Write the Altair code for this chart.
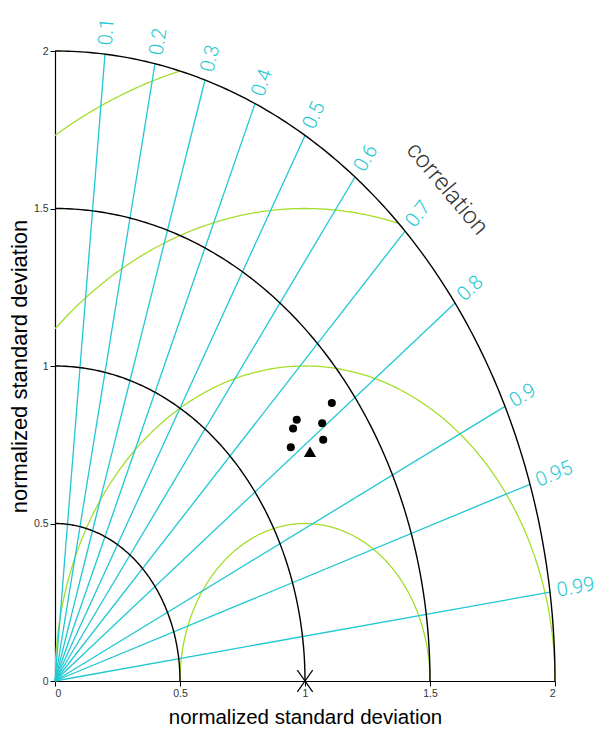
import altair as alt
import numpy as np
import pandas as pd

# ---- chart values ----
corr_ticks = [0.1, 0.2, 0.3, 0.4, 0.5, 0.6, 0.7, 0.8, 0.9, 0.95, 0.99]
corr_labels = ["0.1", "0.2", "0.3", "0.4", "0.5", "0.6", "0.7", "0.8", "0.9", "0.95", "0.99"]
std_arcs = [0.5, 1.0, 1.5, 2.0]          # black arcs (normalized std)
rms_arcs = [0.5, 1.0, 1.5, 2.0]          # green arcs (centred RMS difference)
axis_ticks = [0, 0.5, 1, 1.5, 2]

model_std = [1.416, 1.274, 1.245, 1.346, 1.318, 1.200]
model_corr = [0.782, 0.759, 0.765, 0.794, 0.814, 0.786]
mean_std = [1.253]
mean_corr = [0.814]
ref_std = [1.0]
ref_corr = [1.0]

W, H = 500, 630
RMAX = 2.0
KX, KY = W / RMAX, H / RMAX

CYAN = "#1fc8d2"
GREEN = "#a3de2c"
TXT_FONT = "Roboto"

def xy(s, c):
    c = np.asarray(c, float)
    s = np.asarray(s, float)
    return s * c, s * np.sqrt(np.clip(1 - c ** 2, 0, None))

xs = alt.Scale(domain=[0, RMAX], nice=False, zero=True)
ys = alt.Scale(domain=[0, RMAX], nice=False, zero=True)
xaxis = alt.Axis(values=axis_ticks, format="~g", grid=False, title="normalized standard deviation",
                 titlePadding=9, titleFontSize=20.5)
yaxis = alt.Axis(values=axis_ticks, format="~g", grid=False, title="normalized standard deviation",
                 titlePadding=2, titleFontSize=22)

# black std arcs
rows = []
for k, r in enumerate(std_arcs):
    for t in np.linspace(0, np.pi / 2, 181):
        rows.append({"g": f"s{k}", "o": t, "x": r * np.cos(t), "y": r * np.sin(t)})
std_df = pd.DataFrame(rows)

# green RMS arcs centred at (1, 0), clipped to the quarter disc
rows = []
for k, R in enumerate(rms_arcs):
    xi = (RMAX ** 2 - R ** 2 + 1) / 2
    if xi < 1 + R and R > RMAX - 1:
        p1 = np.arctan2(np.sqrt(max(RMAX ** 2 - xi ** 2, 0)), xi - 1)
    else:
        p1 = 0.0
    p2 = np.arccos(-1 / R) if R > 1 else np.pi
    for t in np.linspace(p1, p2, 241):
        rows.append({"g": f"r{k}", "o": t, "x": 1 + R * np.cos(t), "y": max(R * np.sin(t), 0)})
rms_df = pd.DataFrame(rows)

# correlation rays
cx, cy = xy([RMAX] * len(corr_ticks), corr_ticks)
ray_df = pd.DataFrame({"x": 0.0, "y": 0.0, "x2": cx, "y2": cy})

lx, ly = xy([RMAX * 1.014] * len(corr_ticks), corr_ticks)
ang = [(360 - np.degrees(np.arctan2(KY * b, KX * a))) % 360 for a, b in zip(cx, cy)]
lab_df = pd.DataFrame({"x": lx, "y": ly, "t": corr_labels, "a": ang})

mx, my = xy(model_std, model_corr)
pts_df = pd.DataFrame({"x": mx, "y": my})
tx, ty = xy(mean_std, mean_corr)
tri_df = pd.DataFrame({"x": tx, "y": ty})
rx, ry = xy(ref_std, ref_corr)
ref_df = pd.DataFrame({"x": rx, "y": ry})

X = alt.X("x:Q", scale=xs, axis=xaxis)
Y = alt.Y("y:Q", scale=ys, axis=yaxis)

green = alt.Chart(rms_df).mark_line(color=GREEN, strokeWidth=1.3, clip=True).encode(
    x=X, y=Y, detail="g:N", order="o:Q")
rays = alt.Chart(ray_df).mark_rule(color=CYAN, strokeWidth=1.3).encode(
    x=X, y=Y, x2="x2:Q", y2="y2:Q")
black = alt.Chart(std_df).mark_line(color="black", strokeWidth=1.4).encode(
    x=X, y=Y, detail="g:N", order="o:Q")
labels = alt.Chart(lab_df).mark_text(color=CYAN, font=TXT_FONT, fontWeight=300, fontSize=20,
                                     align="left", baseline="middle").encode(
    x=X, y=Y, text="t:N", angle=alt.Angle("a:Q", scale=None))
corr_title = alt.Chart(pd.DataFrame({"x": [1.568], "y": [1.562], "t": ["correlation"]})).mark_text(
    color="#333333", font=TXT_FONT, fontWeight=300, fontSize=24, angle=50,
    align="center", baseline="middle").encode(x=X, y=Y, text="t:N")
dots = alt.Chart(pts_df).mark_point(shape="circle", filled=True, color="black", size=65, opacity=1).encode(
    x=X, y=Y)
tri = alt.Chart(tri_df).mark_point(shape="triangle-up", filled=True, color="black", size=150, opacity=1).encode(
    x=X, y=Y)
star = alt.Chart(ref_df).mark_point(shape="M-0.7,-1L0.7,1M-0.7,1L0.7,-1", filled=False, color="black",
                                    strokeWidth=1.2, size=480, opacity=1).encode(x=X, y=Y)

chart = alt.layer(green, rays, black, labels, corr_title, dots, tri, star).properties(
    width=W, height=H,
    autosize=alt.AutoSizeParams(type="none"),
    padding={"left": 47, "top": 43, "right": 42, "bottom": 50},
).configure_view(stroke=None).configure_axis(
    domainColor="black", domainWidth=1.2, tickColor="black", tickSize=5, labelPadding=2,
    labelFont="Liberation Sans", labelFontSize=10.5, labelColor="#333333",
    titleFont="Liberation Sans",
    titleFontWeight="normal", titleColor="black",
)

chart.save("out.html", embed_options={"renderer": "svg", "actions": False})
